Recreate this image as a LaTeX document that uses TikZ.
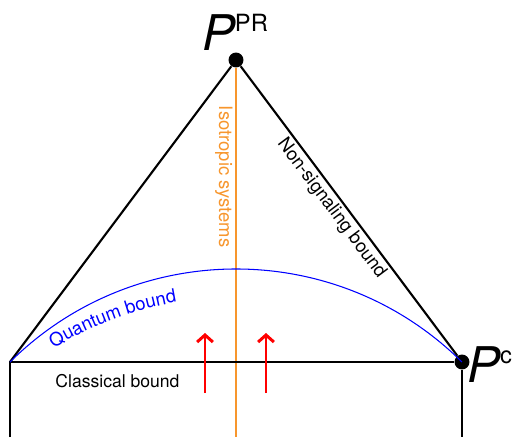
\documentclass[tikz,border=0pt]{standalone}
\usepackage{fontspec}
\setmainfont{TeX Gyre Heros}
\usepackage{tikz}
\usetikzlibrary{calc,arrows.meta,positioning,decorations.text}
\definecolor{isoOrange}{RGB}{247,150,45}
\definecolor{quantBlue}{RGB}{0,0,255}
\definecolor{pushRed}{RGB}{255,0,0}

\begin{document}
\begin{tikzpicture}[x=0.02cm,y=-0.02cm,
    bound/.style={black, line width=1.2pt},
    vertex/.style={circle, fill=black, inner sep=0pt, minimum size=8.5pt},
    push/.style={pushRed, line width=1.7pt, -{Straight Barb[length=4pt,width=9pt]}},
    lbl/.style={font=\fontsize{10.5}{12}\selectfont, inner sep=1.5pt}]

\useasboundingbox (0,0) rectangle (518,437);

% =========================
% 1. corners of the polytope
% =========================
\node[vertex] (ppr) at (236,60) {};
\node[vertex] (pc) at (462,362) {};
\coordinate (pl) at (10,362);

% feet at the lower edge
\coordinate (pl-foot) at (10,437);
\coordinate (pc-foot) at (462,437);
\coordinate (iso-foot) at (236,437);

% =========================
% 2. isotropic line
% =========================
\draw[isoOrange, line width=0.9pt] (ppr) -- (iso-foot)
    node[pos=0.295, rotate=-90, anchor=north, lbl, text=isoOrange] (iso-lbl) {Isotropic systems};

% =========================
% 3. bounds
% =========================
\draw[bound] (pl) -- (ppr) -- (pc)
    node[pos=0.465, sloped, below, lbl] (ns-lbl) {Non-signaling bound};
\draw[bound] (pl-foot) -- (pl) -- (pc) -- (pc-foot);

% quantum arc
\draw[quantBlue, line width=0.6pt]
    (pl) arc[start angle=-134.75, end angle=-45.25, radius=321];
\path[decorate, decoration={text along path,
        text={|\fontsize{10.5}{12}\selectfont\color{quantBlue}|Quantum bound},
        text align={left}}]
    ($(236,648)+(-121.3:351)$) arc[start angle=-121.3, end angle=-70, radius=351];

\node[lbl, font=\fontsize{10}{12}\selectfont, anchor=base] (classical) at (117.5,387) {Classical bound};

% =========================
% 4. arrows
% =========================
\coordinate (push-l-tail) at (205,393);
\coordinate (push-l-head) at (205,333);
\coordinate (push-r-tail) at (266,393);
\coordinate (push-r-head) at (266,333);
\draw[push] (push-l-tail) -- (push-l-head);
\draw[push] (push-r-tail) -- (push-r-head);

% =========================
% 5. labels of the corners
% =========================
\node[anchor=base, inner sep=0pt] (ppr-lbl) at (235,50)
    {\fontsize{28}{30}\selectfont\itshape P\raisebox{10.3pt}{\fontsize{13.5}{15}\selectfont\upshape PR}};
\node[anchor=base west, inner sep=0pt] (pc-lbl) at (467,382)
    {\fontsize{28}{30}\selectfont\itshape P\raisebox{10.8pt}{\fontsize{13.5}{15}\selectfont\upshape c}};

\end{tikzpicture}
\end{document}
